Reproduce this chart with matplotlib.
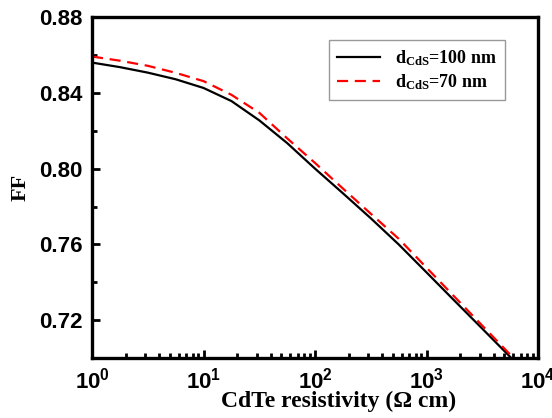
import matplotlib.pyplot as plt
import numpy as np
from matplotlib.ticker import LogLocator, NullFormatter

# Data
rho_100nm = [1, 1.778, 3.162, 5.623, 10, 17.78, 31.62, 56.23, 100, 177.8,
             316.2, 562.3, 1000, 1778, 3162, 5754]
ff_100nm = [0.856, 0.8536, 0.8507, 0.8472, 0.8426, 0.8357, 0.8255, 0.8135,
            0.8000, 0.7870, 0.7738, 0.7600, 0.7452, 0.7303, 0.7155, 0.700]
rho_70nm = [1, 1.778, 3.162, 5.623, 10, 17.78, 31.62, 56.23, 100, 177.8,
            316.2, 562.3, 1000, 1778, 3162, 6026]
ff_70nm = [0.8592, 0.857, 0.8543, 0.8506, 0.8462, 0.839, 0.8295, 0.816,
           0.803, 0.7895, 0.7762, 0.763, 0.7477, 0.7324, 0.7171, 0.700]

y_ticks = [0.72, 0.76, 0.80, 0.84, 0.88]

serif = "Liberation Serif"
sans = "Liberation Sans"

plt.rcParams["mathtext.fontset"] = "custom"
plt.rcParams["mathtext.rm"] = serif
plt.rcParams["mathtext.bf"] = serif + ":bold"

fig = plt.figure(figsize=(5.52, 4.18), dpi=100)
ax = fig.add_axes([0.1667, 0.1435, 0.8080, 0.8155])

ax.plot(rho_100nm, ff_100nm, color="black", lw=1.6,
        label=r"$\mathbf{d_{CdS}}$=100 nm")
ax.plot(rho_70nm, ff_70nm, color="red", lw=1.6, ls=(0, (5, 3)),
        label=r"$\mathbf{d_{CdS}}$=70 nm")

ax.set_xscale("log")
ax.set_xlim(1, 1e4)
ax.set_ylim(0.70, 0.88)
ax.xaxis.set_minor_locator(LogLocator(base=10, subs=np.arange(2, 10)))
ax.xaxis.set_minor_formatter(NullFormatter())
ax.set_yticks(y_ticks)
ax.set_yticklabels([f"{v:.2f}" for v in y_ticks])
ax.set_yticks(np.arange(0.70, 0.881, 0.02), minor=True)

for s in ax.spines.values():
    s.set_linewidth(2.4)

ax.tick_params(which="both", direction="in", top=False, right=False,
               width=2, labelsize=16, pad=7)
ax.tick_params(which="major", length=6)
ax.tick_params(which="minor", length=3.5)
for lab in ax.get_xticklabels() + ax.get_yticklabels():
    lab.set_fontfamily(sans)
    lab.set_fontweight("bold")

ax.set_xlabel("CdTe resistivity (\u03a9 cm)", fontfamily=serif,
              fontweight="bold", fontsize=17)
ax.xaxis.set_label_coords(0.552, -0.097)
ax.set_ylabel("FF", fontfamily=serif, fontweight="bold", fontsize=16,
              labelpad=6)

leg = ax.legend(loc="upper right", bbox_to_anchor=(0.926, 0.933),
                borderaxespad=0,
                prop={"family": serif, "weight": "bold", "size": 13},
                fancybox=False, edgecolor="gray", handlelength=2.4,
                borderpad=0.45, labelspacing=0.25)
leg.get_frame().set_linewidth(1.0)

fig.savefig("out.png", dpi=100)
